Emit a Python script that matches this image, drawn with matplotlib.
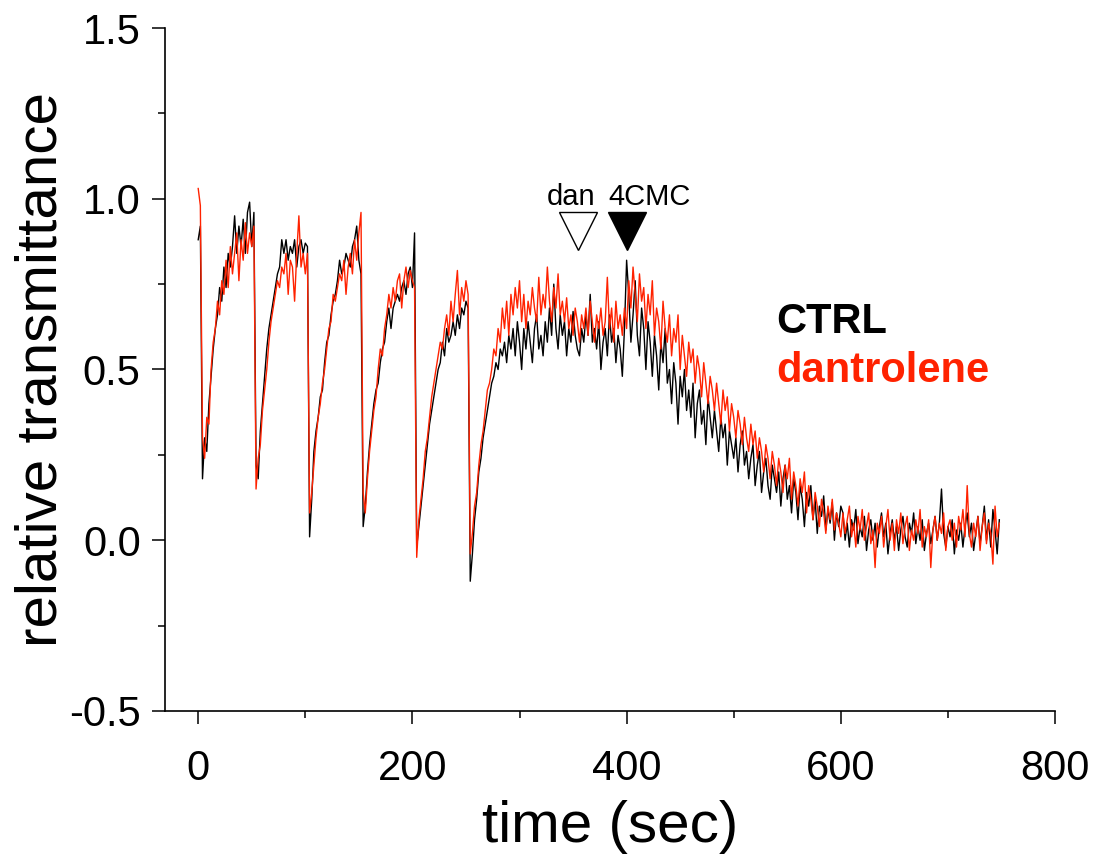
import numpy as np
import matplotlib
matplotlib.use("Agg")
import matplotlib.pyplot as plt
from matplotlib.ticker import MultipleLocator, FixedLocator

plt.rcParams['font.family'] = ['Liberation Sans', 'DejaVu Sans']

# sampling grid of the recordings (sec)
time = np.arange(0, 750, 2)

# CTRL trace
ctrl_pulses = [
    0.88, 0.92, 0.18, 0.30, 0.26, 0.40, 0.48, 0.56, 0.62, 0.66, 0.74, 0.70, 0.80, 0.74,
    0.84, 0.80, 0.86, 0.95, 0.84, 0.92, 0.86, 0.94, 0.84, 0.96, 0.99, 0.86, 0.96,
    0.22, 0.18, 0.32, 0.40, 0.48, 0.56, 0.62, 0.66, 0.70, 0.74, 0.78, 0.80, 0.88, 0.84,
    0.88, 0.82, 0.86, 0.84, 0.88, 0.80, 0.86, 0.88, 0.84, 0.87, 0.86,
    0.01, 0.12, 0.26, 0.32, 0.36, 0.42, 0.44, 0.52, 0.58, 0.60, 0.66, 0.70, 0.72, 0.76,
    0.82, 0.78, 0.80, 0.84, 0.82, 0.80, 0.86, 0.88, 0.92, 0.82, 0.78,
    0.04, 0.10, 0.20, 0.28, 0.34, 0.40, 0.44, 0.46, 0.52, 0.56, 0.58, 0.64, 0.68, 0.62,
    0.68, 0.70, 0.72, 0.70, 0.74, 0.76, 0.72, 0.78, 0.80, 0.74, 0.90,
    -0.02, 0.04, 0.10, 0.16, 0.22, 0.28, 0.34, 0.38, 0.42, 0.46, 0.50, 0.52, 0.58, 0.54,
    0.62, 0.58, 0.60, 0.64, 0.60, 0.66, 0.62, 0.68, 0.66, 0.70, 0.68,
    -0.12, -0.04, 0.06, 0.12, 0.20, 0.24, 0.30, 0.34, 0.38, 0.42, 0.46, 0.48, 0.52, 0.50,
    0.56, 0.54, 0.58, 0.52, 0.60, 0.56, 0.62, 0.54, 0.64,
]
ctrl_plateau = [
    0.58, 0.50, 0.62, 0.56, 0.64, 0.58, 0.52, 0.62, 0.66, 0.56,
    0.60, 0.54, 0.64, 0.58, 0.68, 0.60, 0.75, 0.62, 0.56, 0.66,
    0.60, 0.64, 0.54, 0.62, 0.58, 0.67, 0.60, 0.56, 0.54, 0.62,
    0.58, 0.66, 0.60, 0.72, 0.58, 0.62, 0.56, 0.64, 0.50, 0.58,
    0.62, 0.54, 0.66, 0.58, 0.62, 0.52, 0.60, 0.56, 0.48, 0.62,
    0.82,
]
ctrl_decline = [
    0.72, 0.58, 0.66, 0.76, 0.60, 0.54, 0.68, 0.62, 0.50, 0.64,
    0.58, 0.48, 0.60, 0.54, 0.44, 0.58, 0.52, 0.62, 0.46, 0.50,
    0.40, 0.52, 0.46, 0.34, 0.48, 0.42, 0.50, 0.38, 0.44, 0.36,
    0.46, 0.30, 0.40, 0.44, 0.34, 0.38, 0.28, 0.42, 0.36, 0.30,
    0.38, 0.32, 0.26, 0.36, 0.30, 0.34, 0.22, 0.32, 0.28, 0.24,
    0.30, 0.20, 0.28, 0.32, 0.22, 0.26, 0.18, 0.24, 0.28, 0.16,
    0.22, 0.26, 0.14, 0.20, 0.24, 0.16, 0.12, 0.22, 0.18, 0.14,
    0.20, 0.10, 0.18, 0.22, 0.12, 0.16, 0.08, 0.18, 0.14, 0.06,
    0.16, 0.12, 0.04, 0.14, 0.10, 0.16, 0.06, 0.12, 0.02, 0.10,
    0.07, 0.13, 0.03, 0.09, 0.05, 0.11, 0.00, 0.08, 0.04, 0.10,
]
ctrl_tail = [
    0.08, 0.00, 0.05, -0.02, 0.06, 0.03, 0.09, -0.01, 0.04, 0.01,
    0.07, -0.03, 0.03, 0.06, 0.00, 0.05, -0.02, 0.04, 0.08, 0.01,
    0.05, -0.04, 0.02, 0.06, 0.00, 0.04, -0.03, 0.03, 0.07, 0.01,
    -0.02, 0.05, 0.02, 0.08, -0.01, 0.04, 0.00, 0.06, -0.03, 0.02,
    0.05, -0.01, 0.03, 0.07, 0.00, 0.05, 0.15, 0.02, -0.02, 0.04,
    0.01, 0.06, -0.04, 0.03, 0.00, 0.05, -0.02, 0.04, 0.08, 0.01,
    0.05, -0.03, 0.02, 0.07, -0.01, 0.04, 0.10, 0.00, 0.06, -0.02,
    0.09, 0.03, -0.04, 0.06,
]

# dantrolene trace
dan_pulses = [
    1.03, 0.98, 0.30, 0.24, 0.36, 0.34, 0.50, 0.58, 0.62, 0.70, 0.66, 0.76, 0.72, 0.82,
    0.74, 0.86, 0.78, 0.84, 0.90, 0.76, 0.88, 0.82, 0.93, 0.84, 0.90, 0.86, 0.92,
    0.15, 0.24, 0.28, 0.38, 0.44, 0.50, 0.58, 0.64, 0.68, 0.72, 0.76, 0.74, 0.80, 0.78,
    0.84, 0.72, 0.82, 0.80, 0.70, 0.84, 0.95, 0.80, 0.84, 0.78, 0.84,
    0.08, 0.14, 0.22, 0.30, 0.36, 0.40, 0.46, 0.50, 0.56, 0.62, 0.64, 0.72, 0.70, 0.74,
    0.78, 0.76, 0.82, 0.72, 0.80, 0.84, 0.78, 0.88, 0.82, 0.90, 0.96,
    0.14, 0.08, 0.18, 0.26, 0.32, 0.38, 0.42, 0.50, 0.56, 0.54, 0.62, 0.66, 0.72, 0.68,
    0.74, 0.70, 0.76, 0.78, 0.68, 0.76, 0.80, 0.74, 0.79, 0.76, 0.74,
    -0.05, 0.06, 0.12, 0.18, 0.26, 0.30, 0.36, 0.42, 0.46, 0.50, 0.54, 0.58, 0.56, 0.62,
    0.66, 0.60, 0.70, 0.64, 0.72, 0.79, 0.66, 0.74, 0.70, 0.76, 0.72,
    -0.04, 0.02, 0.10, 0.14, 0.22, 0.28, 0.32, 0.38, 0.44, 0.46, 0.50, 0.56, 0.54, 0.62,
    0.58, 0.68, 0.62, 0.70, 0.60, 0.72, 0.66, 0.74, 0.68,
]
dan_plateau = [
    0.76, 0.64, 0.72, 0.62, 0.70, 0.66, 0.74, 0.68, 0.64, 0.77,
    0.66, 0.72, 0.68, 0.80, 0.70, 0.64, 0.74, 0.68, 0.78, 0.66,
    0.70, 0.64, 0.71, 0.62, 0.66, 0.60, 0.68, 0.64, 0.58, 0.66,
    0.62, 0.68, 0.60, 0.70, 0.64, 0.58, 0.66, 0.62, 0.68, 0.60,
    0.64, 0.77, 0.62, 0.68, 0.58, 0.70, 0.62, 0.66, 0.60, 0.68,
    0.62,
]
dan_decline = [
    0.76, 0.68, 0.80, 0.72, 0.64, 0.78, 0.70, 0.74, 0.62, 0.72,
    0.66, 0.76, 0.60, 0.68, 0.64, 0.56, 0.70, 0.62, 0.58, 0.66,
    0.54, 0.62, 0.58, 0.66, 0.50, 0.60, 0.54, 0.48, 0.58, 0.52,
    0.56, 0.46, 0.54, 0.50, 0.42, 0.52, 0.46, 0.40, 0.48, 0.44,
    0.38, 0.46, 0.40, 0.34, 0.44, 0.38, 0.42, 0.32, 0.40, 0.36,
    0.30, 0.38, 0.34, 0.28, 0.36, 0.30, 0.26, 0.34, 0.28, 0.32,
    0.24, 0.30, 0.26, 0.20, 0.28, 0.24, 0.18, 0.26, 0.22, 0.16,
    0.24, 0.20, 0.14, 0.22, 0.18, 0.24, 0.12, 0.20, 0.16, 0.10,
    0.18, 0.14, 0.20, 0.08, 0.16, 0.12, 0.06, 0.14, 0.10, 0.04,
    0.12, 0.08, 0.02, 0.10, 0.06, 0.12, 0.03, 0.08, 0.05, 0.01,
]
dan_tail = [
    0.08, 0.02, 0.06, 0.10, 0.01, 0.05, -0.02, 0.07, 0.03, 0.09,
    0.00, 0.04, 0.08, -0.01, 0.03, -0.08, 0.05, 0.02, 0.07, -0.02,
    0.04, 0.09, 0.00, 0.05, -0.03, 0.06, 0.02, 0.08, -0.01, 0.04,
    0.07, -0.03, 0.03, 0.00, 0.06, 0.02, 0.09, -0.02, 0.04, 0.01,
    0.06, -0.08, 0.03, 0.07, 0.00, 0.05, 0.02, 0.08, -0.03, 0.04,
    0.06, 0.00, 0.05, -0.02, 0.07, 0.03, 0.09, 0.01, 0.16, 0.02,
    -0.02, 0.05, 0.01, 0.07, -0.03, 0.04, 0.08, -0.01, 0.05, 0.02,
    -0.07, 0.10, 0.01, 0.05,
]

ctrl = np.array(ctrl_pulses + ctrl_plateau + ctrl_decline + ctrl_tail)
dan = np.array(dan_pulses + dan_plateau + dan_decline + dan_tail)

# drug application times (sec)
dan_time = 355
cmc_time = 400
arrow_level = 0.906

RED = '#ff2200'

fig = plt.figure(figsize=(11.03, 8.59), dpi=100)
ax = fig.add_axes([0.1496, 0.1723, 0.8069, 0.7951])

ax.plot(time, ctrl, color='black', lw=1.0)
ax.plot(time, dan, color=RED, lw=1.0)

# application markers
ax.plot([dan_time], [arrow_level], marker='v', ms=28, mfc='white', mec='black', mew=1.0)
ax.plot([cmc_time], [arrow_level], marker='v', ms=28, mfc='black', mec='black', mew=1.0)
ax.text(dan_time - 7, 0.981, 'dan', ha='center', va='baseline', fontsize=21)
ax.text(cmc_time - 17, 0.981, '4CMC', ha='left', va='baseline', fontsize=21)

# labels for the traces
ax.text(540, 0.606, 'CTRL', color='black', fontsize=30, fontweight='bold', va='baseline')
ax.text(540, 0.463, 'dantrolene', color=RED, fontsize=30, fontweight='bold', va='baseline')

ax.set_xlim(-31, 800)
ax.set_ylim(-0.5, 1.5)
ax.xaxis.set_major_locator(FixedLocator([0, 200, 400, 600, 800]))
ax.xaxis.set_minor_locator(FixedLocator([100, 300, 500, 700]))
ax.set_yticks([-0.5, 0.0, 0.5, 1.0, 1.5])
ax.set_yticklabels(['-0.5', '0.0', '0.5', '1.0', '1.5'])
ax.yaxis.set_minor_locator(MultipleLocator(0.25))

for side in ['top', 'right']:
    ax.spines[side].set_visible(False)
for side in ['left', 'bottom']:
    ax.spines[side].set_linewidth(1.2)

ax.tick_params(which='major', direction='out', length=9.5, width=1.1, labelsize=30)
ax.tick_params(which='minor', direction='out', length=5, width=1.1)
ax.tick_params(axis='x', which='major', pad=18)
ax.tick_params(axis='y', which='major', pad=8)

ax.set_xlabel('time (sec)', fontsize=42, labelpad=8)
ax.set_ylabel('relative transmittance', fontsize=42, labelpad=0)

fig.savefig('out.png', dpi=100)
